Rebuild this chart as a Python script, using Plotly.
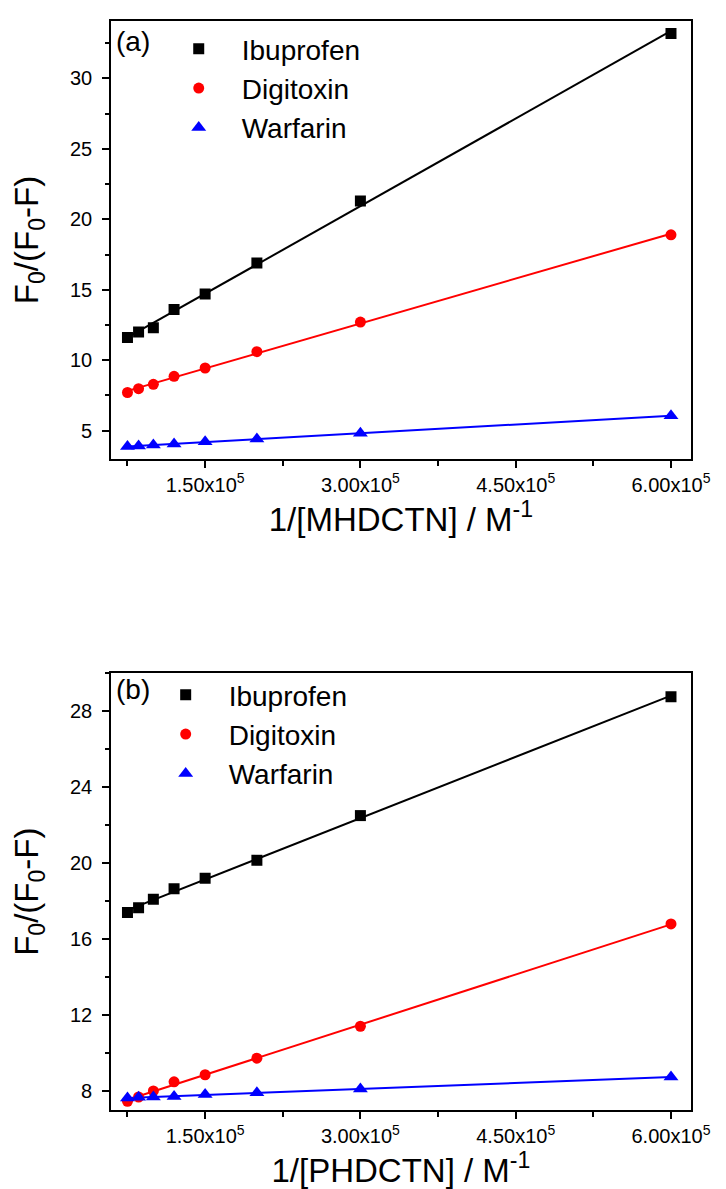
import numpy as np
import plotly.graph_objects as go

# ---------------- data ----------------
x_conc = [75000, 85714, 100000, 120000, 150000, 200000, 300000, 600000]

ibu_a = [11.6, 12.0, 12.3, 13.6, 14.7, 16.9, 21.3, 33.2]
dig_a = [7.7, 7.97, 8.28, 8.85, 9.44, 10.6, 12.7, 18.9]
war_a = [3.86, 3.91, 3.98, 4.05, 4.2, 4.4, 4.8, 6.05]

ibu_b = [17.4, 17.65, 18.1, 18.65, 19.2, 20.15, 22.5, 28.75]
dig_b = [7.47, 7.7, 8.02, 8.5, 8.87, 9.74, 11.42, 16.8]
war_b = [7.65, 7.68, 7.7, 7.72, 7.83, 7.92, 8.12, 8.75]

names = ["Ibuprofen", "Digitoxin", "Warfarin"]
colors = ["#000000", "#ff0000", "#0000ff"]
symbols = ["square", "circle", "triangle-up"]
msizes = [11, 11, 13]

x_tickvals = [150000, 300000, 450000, 600000]
x_ticktext = ["1.50x10<sup>5</sup>", "3.00x10<sup>5</sup>", "4.50x10<sup>5</sup>", "6.00x10<sup>5</sup>"]

FONT = "Liberation Sans, Arial, sans-serif"
W, H = 726, 1189

fig = go.Figure()

panels = [
    ("x", "y", "legend", [ibu_a, dig_a, war_a]),
    ("x2", "y2", "legend2", [ibu_b, dig_b, war_b]),
]

xarr = np.array(x_conc, dtype=float)
for xa, ya, leg, series in panels:
    for name, col, yv in zip(names, colors, series):
        yarr = np.array(yv, dtype=float)
        k, b = np.polyfit(xarr, yarr, 1)
        xf = np.array([xarr.min(), xarr.max()])
        fig.add_trace(go.Scatter(
            x=xf, y=k * xf + b, mode="lines", line=dict(color=col, width=2),
            showlegend=False, xaxis=xa, yaxis=ya, hoverinfo="skip"))
    for name, col, sym, ms, yv in zip(names, colors, symbols, msizes, series):
        fig.add_trace(go.Scatter(
            x=x_conc, y=yv, mode="markers", name=name,
            marker=dict(color=col, symbol=sym, size=ms, line=dict(width=0)),
            xaxis=xa, yaxis=ya, legend=leg))

def px_x(p):
    return p / W

def px_y(p):
    return 1 - p / H

xdom = [px_x(106), px_x(701)]
ydom_a = [px_y(450.7), px_y(13.3)]
ydom_b = [px_y(1102.3), px_y(665)]

axis_common = dict(
    showline=True, linecolor="black", linewidth=2, mirror=True,
    showgrid=False, zeroline=False, ticks="outside", ticklen=7, tickwidth=1.5,
    tickcolor="black", tickfont=dict(family=FONT, size=20, color="black"),
)

xaxis_common = dict(
    axis_common, range=[59300, 619000], domain=xdom,
    tickmode="array", tickvals=x_tickvals, ticktext=x_ticktext,
    minor=dict(tickmode="array", tickvals=[75000, 225000, 375000, 525000],
               ticks="outside", ticklen=5, tickwidth=1.5, tickcolor="black"),
)

ytitle = dict(text="F<sub>0</sub>/(F<sub>0</sub>-F)", font=dict(family=FONT, size=33), standoff=24)

fig.update_layout(
    width=W, height=H,
    margin=dict(l=0, r=0, t=0, b=0),
    paper_bgcolor="white", plot_bgcolor="white",
    font=dict(family=FONT, color="black"),
    xaxis=dict(xaxis_common, anchor="y",
               title=dict(text="1/[MHDCTN] / M<sup>-1</sup>", font=dict(family=FONT, size=33), standoff=8)),
    yaxis=dict(axis_common, domain=ydom_a, anchor="x", range=[3.0, 34.06],
               tickmode="linear", tick0=0, dtick=5, ticklabelstandoff=6,
               minor=dict(tickmode="linear", tick0=0, dtick=2.5, ticks="outside", ticklen=4,
                          tickwidth=1.5, tickcolor="black"),
               title=ytitle),
    xaxis2=dict(xaxis_common, anchor="y2",
                title=dict(text="1/[PHDCTN] / M<sup>-1</sup>", font=dict(family=FONT, size=33), standoff=8)),
    yaxis2=dict(axis_common, domain=ydom_b, anchor="x2", range=[7.0, 30.0],
                tickmode="linear", tick0=0, dtick=4, ticklabelstandoff=6,
                minor=dict(tickmode="linear", tick0=0, dtick=2, ticks="outside", ticklen=4,
                           tickwidth=1.5, tickcolor="black"),
                title=ytitle),
    legend=dict(x=px_x(151.7), y=px_y(16), xanchor="left", yanchor="top",
                bgcolor="rgba(0,0,0,0)", borderwidth=0,
                font=dict(family=FONT, size=28, color="black"), itemwidth=76, tracegroupgap=0),
    legend2=dict(x=px_x(138.3), y=px_y(662), xanchor="left", yanchor="top",
                 bgcolor="rgba(0,0,0,0)", borderwidth=0,
                 font=dict(family=FONT, size=28, color="black"), itemwidth=76, tracegroupgap=0),
    annotations=[
        dict(text="(a)", x=px_x(128), y=px_y(34), xref="paper", yref="paper",
             xanchor="center", yanchor="middle",
             showarrow=False, font=dict(family=FONT, size=28, color="black")),
        dict(text="(b)", x=px_x(128), y=px_y(681), xref="paper", yref="paper",
             xanchor="center", yanchor="middle",
             showarrow=False, font=dict(family=FONT, size=28, color="black")),
    ],
)

fig.write_html("out.html")
